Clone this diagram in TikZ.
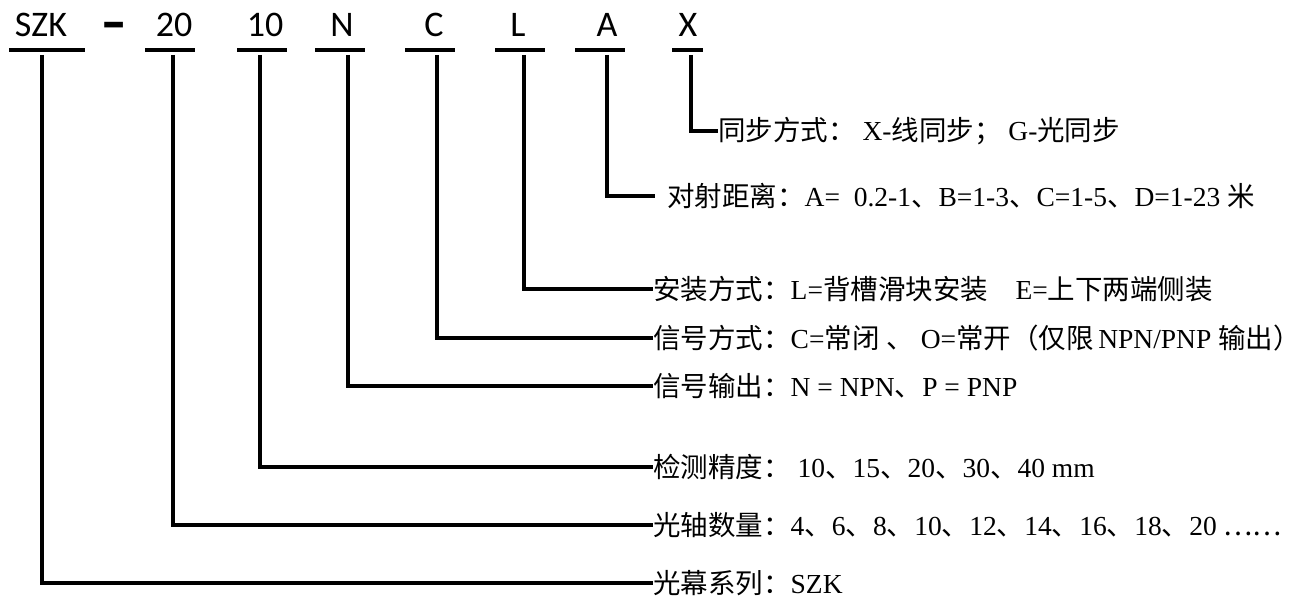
\documentclass[tikz,border=0pt]{standalone}
\usepackage{fontspec}
\setmainfont{Carlito}
\newfontfamily\cjk{Noto Sans CJK SC}
\newfontfamily\latserif{Liberation Serif}
\newcommand{\zh}[1]{{\cjk #1}}
\begin{document}
\begin{tikzpicture}[x=1pt,y=-1pt,
  code/.style={font=\fontsize{36}{40}\selectfont, anchor=base, inner sep=0pt},
  lab/.style={font=\latserif\fontsize{27.5}{30}\selectfont, anchor=west, inner sep=0pt},
  uline/.style={line width=4pt},
  conn/.style={line width=3.2pt, line join=miter}]
\useasboundingbox (0,0) rectangle (1299,599);
% code letters
\node[code] (szk) at (41,37) {SZK};
\node[code, font=\bfseries\fontsize{54}{56}\selectfont, xscale=1.4] (dash) at (114,41) {-};
\node[code] (c20) at (174,37) {20};
\node[code] (c10) at (265,37) {10};
\node[code] (cN) at (342,37) {N};
\node[code] (cC) at (434,37) {C};
\node[code] (cL) at (518,37) {L};
\node[code] (cA) at (607,37) {A};
\node[code] (cX) at (688,37) {X};
% underlines
\draw[uline] (9,50) -- (85,50);
\draw[uline] (145,50) -- (195,50);
\draw[uline] (237,50) -- (287,50);
\draw[uline] (315,50) -- (365,50);
\draw[uline] (405,50) -- (455,50);
\draw[uline] (495,50) -- (545,50);
\draw[uline] (575,50) -- (625,50);
\draw[uline] (672,50) -- (703,50);
% tops of connectors
\coordinate (tSZK) at (42,55);
\coordinate (t20) at (173,55);
\coordinate (t10) at (260,55);
\coordinate (tN) at (348,55);
\coordinate (tC) at (437,55);
\coordinate (tL) at (524,55);
\coordinate (tA) at (607,55);
\coordinate (tX) at (691,55);
% labels
\node[lab] (lX) at (718,131) {\zh{同步方式：}\ X-\zh{线同步；}\ G-\zh{光同步}};
\node[lab] (lA) at (667,196) {\zh{对射距离：}A=\ \ 0.2-1\zh{、}B=1-3\zh{、}C=1-5\zh{、}D=1-23\ \zh{米}};
\node[lab] (lL) at (653,289) {\zh{安装方式：}L=\zh{背槽滑块安装}\quad E=\zh{上下两端侧装}};
\node[lab] (lC) at (653,338) {\zh{信号方式：}C=\zh{常闭}\ \zh{、}\ O=\zh{常开（仅限}\,NPN/PNP\ \zh{输出）}};
\node[lab] (lN) at (653,386) {\zh{信号输出：}N = NPN\zh{、}P = PNP};
\node[lab] (l10) at (653,467) {\zh{检测精度：}\ 10\zh{、}15\zh{、}20\zh{、}30\zh{、}40 mm};
\node[lab] (l20) at (653,525) {\zh{光轴数量：}4\zh{、}6\zh{、}8\zh{、}10\zh{、}12\zh{、}14\zh{、}16\zh{、}18\zh{、}20 \zh{……}};
\node[lab] (lSZK) at (653,583) {\zh{光幕系列：}SZK};
% connectors
\draw[conn] (tX) |- (lX.west);
\draw[conn] (tA) |- ([xshift=-12pt]lA.west);
\draw[conn] (tL) |- (lL.west);
\draw[conn] (tC) |- (lC.west);
\draw[conn] (tN) |- (lN.west);
\draw[conn] (t10) |- (l10.west);
\draw[conn] (t20) |- (l20.west);
\draw[conn] (tSZK) |- (lSZK.west);
\end{tikzpicture}
\end{document}
